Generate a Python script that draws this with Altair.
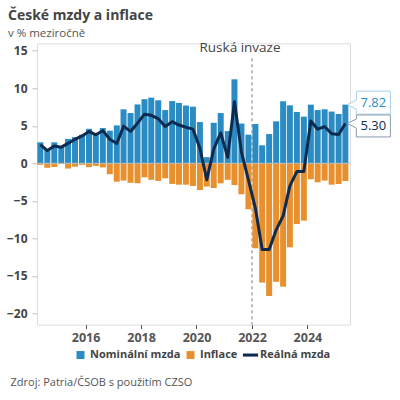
import altair as alt
import pandas as pd

# ---------------- data ----------------
quarters = [str(p) for p in pd.period_range("2014Q2", "2025Q2", freq="Q")]
nominal = [2.8, 1.85, 2.8, 2.3, 3.25, 3.5, 3.8, 4.6, 4.05, 4.7, 4.35, 5.05, 7.2, 6.7, 7.85,
           8.55, 8.75, 8.4, 7.1, 8.3, 8.05, 7.7, 7.55, 5.5, 0.82, 5.4, 6.7, 4.3, 11.2, 5.3,
           3.82, 5.24, 2.4, 3.9, 5.6, 8.27, 7.73, 6.84, 6.22, 7.82, 7.1, 7.2, 6.9, 6.57, 7.82]
inflation = [0.2, 0.6, 0.5, 0.1, 0.7, 0.45, 0.2, 0.5, 0.35, 0.55, 1.45, 2.45, 2.3, 2.6, 2.65,
             1.87, 2.2, 2.35, 2.0, 2.75, 2.85, 2.85, 3.03, 3.56, 3.1, 3.3, 2.67, 2.2, 2.9, 4.13,
             6.13, 11.33, 15.9, 17.7, 15.8, 16.45, 11.2, 8.1, 7.65, 2.13, 2.53, 2.3, 2.85, 2.76, 2.36]
real = [2.5, 1.7, 2.3, 2.15, 2.65, 3.2, 3.65, 4.25, 3.8, 4.35, 3.2, 2.65, 4.95, 4.25, 5.35,
        6.55, 6.4, 5.95, 4.9, 5.55, 5.1, 4.8, 4.55, 2.0, -2.2, 1.9, 4.05, 0.8, 8.2, 1.5,
        -2.2, -6.0, -11.5, -11.5, -8.9, -7.0, -3.0, -1.1, -1.1, 5.65, 4.55, 4.9, 3.95, 3.85, 5.30]
series_names = ["Nominální mzda", "Inflace", "Reálná mzda"]
series_colors = ["#2b8cc4", "#e8902e", "#0f2a4f"]
year_ticks = ["2016", "2018", "2020", "2022", "2024"]
y_ticks = [-20, -15, -10, -5, 0, 5, 10, 15]
event_date = "2022-01-01"
event_label = "Ruská invaze"

# ---------------- tables ----------------
def mid_date(q):
    y, n = q.split("Q")
    return f"{y}-{[2, 5, 8, 11][int(n) - 1]:02d}-15"

dates = [mid_date(q) for q in quarters]
bars = pd.DataFrame({
    "date": dates * 2,
    "value": nominal + [-v for v in inflation],
    "col": [series_colors[0]] * len(dates) + [series_colors[1]] * len(dates),
})
line = pd.DataFrame({"date": dates, "value": real})
legend_rows = pd.DataFrame({"date": [dates[0]] * 3, "value": [None] * 3, "series": series_names})
last_nom = pd.DataFrame({"date": [dates[-1]], "value": [nominal[-1]]})
last_real = pd.DataFrame({"date": [dates[-1]], "value": [real[-1]]})

FONT = "Open Sans"
xscale = alt.Scale(domain=["2014-04-01", "2025-07-15"], padding=0)
yscale = alt.Scale(domain=[-21.5, 16], nice=False, zero=False)
cscale = alt.Scale(domain=series_names, range=series_colors)
sq = "M-1,-1H1V1H-1Z"
ln = "M-1.9,-0.38H1.9V0.38H-1.9Z"
sscale = alt.Scale(domain=series_names, range=[sq, sq, ln])

legend = alt.Legend(
    title=None, orient="none", legendX=38, legendY=306, direction="horizontal",
    labelFont=FONT, labelFontSize=11, labelFontWeight="bold", labelColor="#444",
    symbolSize=64, labelOffset=4, columnPadding=4, symbolOpacity=1, symbolStrokeWidth=0,
)

xaxis = alt.Axis(
    values=[f"{y}-01-01" for y in year_ticks], format="%Y", grid=False, domain=False,
    labelFont=FONT, labelFontSize=12.5, labelFontWeight="bold", labelColor="#555",
    tickSize=4, tickColor="#555", labelPadding=3,
    title="Zdroj: Patria/ČSOB s použitím CZSO", titleFont=FONT, titleFontSize=11,
    titleFontWeight="normal", titleColor="#555", titleAnchor="start", titleAlign="left",
    titleX=-27, titleY=57.5, titleBaseline="middle",
)
yaxis = alt.Axis(
    values=y_ticks, grid=False, domain=False, title=None,
    labelFont=FONT, labelFontSize=12, labelFontWeight="bold", labelColor="#444",
    tickSize=5, tickColor="#bbb", labelPadding=5,
)

X = alt.X("date:T", scale=xscale, axis=xaxis)
Y = alt.Y("value:Q", scale=yscale, axis=yaxis, stack=None)
Xs = alt.X("date:T", scale=xscale)
Ys = alt.Y("value:Q", scale=yscale)

zero = alt.Chart(pd.DataFrame({"value": [0]})).mark_rule(color="#bbb", strokeWidth=1).encode(y=Ys)

event = alt.Chart(pd.DataFrame({"date": [event_date], "value": [14.0], "v2": [-21.5]})).mark_rule(
    color="#777", strokeWidth=1, strokeDash=[3, 3]).encode(x=Xs, y=Ys, y2="v2:Q")

event_text = alt.Chart(pd.DataFrame({"date": [event_date], "value": [15.4], "t": [event_label]})).mark_text(
    font=FONT, fontSize=13.5, color="#444", dx=-12, baseline="middle", align="center").encode(
    x=Xs, y=Ys, text="t:N")

bar_layer = alt.Chart(bars).mark_bar(width=6).encode(
    x=X, y=Y, color=alt.Color("col:N", scale=None))

line_layer = alt.Chart(line).mark_line(strokeWidth=3, strokeJoin="round", color=series_colors[2]).encode(
    x=Xs, y=Ys)

legend_layer = alt.Chart(legend_rows).mark_point(filled=True, size=64).encode(
    x=Xs, y=Ys,
    color=alt.Color("series:N", scale=cscale, legend=legend),
    shape=alt.Shape("series:N", scale=sscale, legend=legend))

box_nom = alt.Chart(last_nom).mark_point(
    shape="M0.2,0L1.1,-0.45L1.1,-1.35L4.5,-1.35L4.5,0.95L1.1,0.95L1.1,0.45Z",
    size=400, filled=True, fill="white", stroke="#a9d1e8", strokeWidth=1, opacity=1).encode(x=Xs, y=Ys)
box_real = alt.Chart(last_real).mark_point(
    shape="M0.2,0L1.1,-0.45L1.1,-0.86L4.5,-0.86L4.5,1.34L1.1,1.34L1.1,0.45Z",
    size=400, filled=True, fill="white", stroke="#8a9bb0", strokeWidth=1, opacity=1).encode(x=Xs, y=Ys)
txt_nom = alt.Chart(last_nom).mark_text(font=FONT, fontSize=13, color=series_colors[0], dx=28, dy=-2,
                                        align="center", baseline="middle").encode(
    x=Xs, y=Ys, text=alt.Text("value:Q", format=".2f"))
txt_real = alt.Chart(last_real).mark_text(font=FONT, fontSize=13, color=series_colors[2], dx=28, dy=2.4,
                                          align="center", baseline="middle").encode(
    x=Xs, y=Ys, text=alt.Text("value:Q", format=".2f"))

chart = alt.layer(event, bar_layer, zero, line_layer, legend_layer, event_text,
                  box_nom, box_real, txt_nom, txt_real).properties(
    width=313, height=281.25, autosize="none",
    padding={"left": 37, "top": 43.3, "right": 50, "bottom": 75.45},
    title=alt.TitleParams(
        text="České mzdy a inflace", subtitle="v % meziročně", anchor="start", frame="group",
        dx=-29, font=FONT, fontSize=14, fontWeight="bold", color="#444",
        subtitleFont=FONT, subtitleFontSize=11.5, subtitleColor="#555", subtitlePadding=5, offset=1,
    ),
).configure_view(stroke=None).configure(background="white")

chart.save("out.html", embed_options={"renderer": "svg", "actions": False})
